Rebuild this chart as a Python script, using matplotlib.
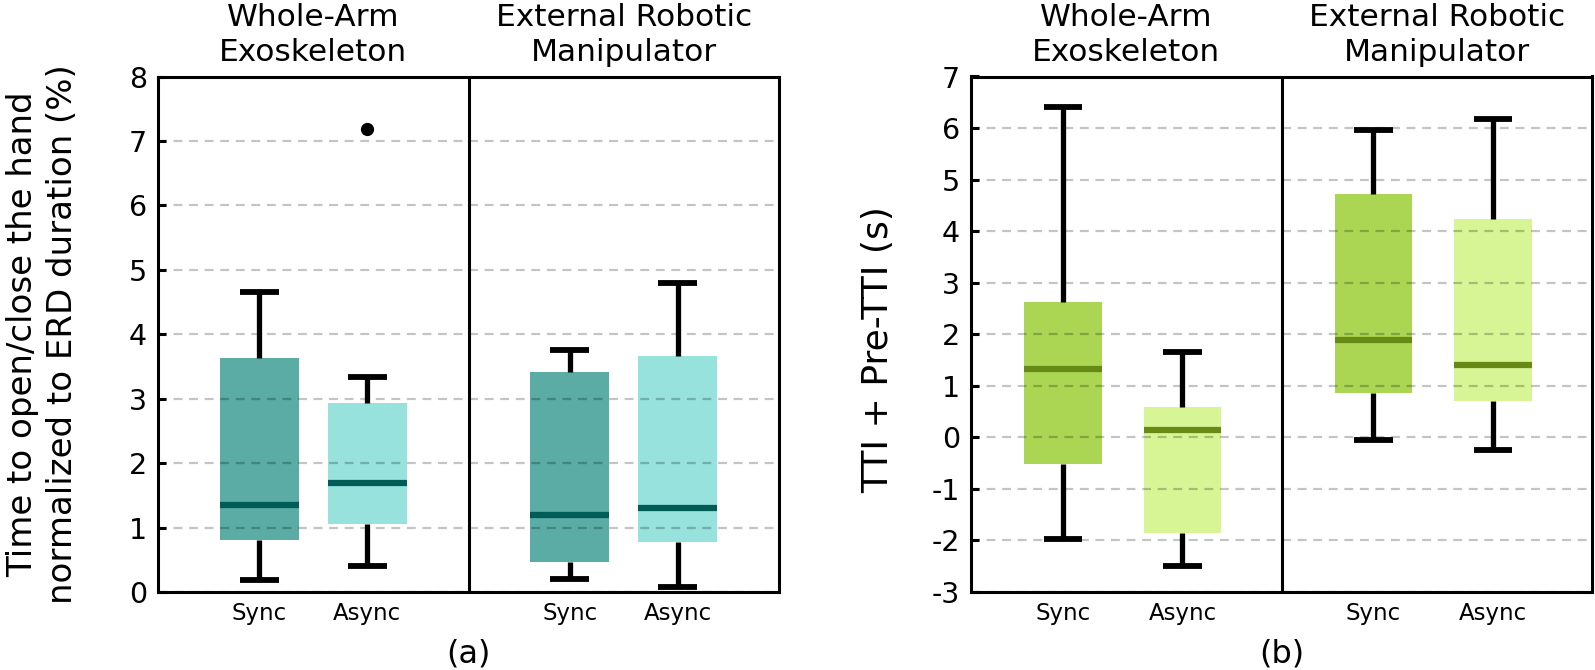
import matplotlib
matplotlib.use("Agg")
import matplotlib.pyplot as plt
import numpy as np

plt.rcParams["axes.unicode_minus"] = False

# groups / conditions
groups = ["Whole-Arm\nExoskeleton", "External Robotic\nManipulator"]
conditions = ["Sync", "Async"]

# panel (a): WAE Sync, WAE Async, ERM Sync, ERM Async
a_whislo = [0.18, 0.41, 0.20, 0.07]
a_q1 = [0.80, 1.05, 0.47, 0.78]
a_med = [1.35, 1.69, 1.20, 1.30]
a_q3 = [3.63, 2.94, 3.41, 3.67]
a_whishi = [4.65, 3.33, 3.76, 4.80]
a_fliers = [[], [7.19], [], []]

# panel (b)
b_whislo = [-1.98, -2.49, -0.05, -0.25]
b_q1 = [-0.52, -1.85, 0.87, 0.71]
b_med = [1.32, 0.14, 1.89, 1.40]
b_q3 = [2.62, 0.58, 4.72, 4.24]
b_whishi = [6.41, 1.65, 5.97, 6.17]
b_fliers = [[], [], [], []]

a_ylabel = "Time to open/close the hand\nnormalized to ERD duration (%)"
b_ylabel = "TTI + Pre-TTI (s)"


def make_stats(lo, q1, med, q3, hi, fl):
    return [dict(whislo=lo[i], q1=q1[i], med=med[i], q3=q3[i], whishi=hi[i],
                 fliers=fl[i]) for i in range(len(med))]


def draw_panel(ax, stats, offsets, width, colors, med_color, ylim, yticks,
               ylabel, label_size, label_xy, tag):
    pos = [offsets[0], offsets[1], 1 + offsets[0], 1 + offsets[1]]
    res = ax.bxp(stats, positions=pos, widths=width, capwidths=0.125,
                 patch_artist=True, showfliers=True,
                 boxprops=dict(linewidth=0),
                 whiskerprops=dict(color="black", linewidth=3.8, solid_capstyle="butt"),
                 capprops=dict(color="black", linewidth=4.2, solid_capstyle="butt"),
                 medianprops=dict(color=med_color, linewidth=4.5, solid_capstyle="butt"),
                 flierprops=dict(marker="o", markerfacecolor="black",
                                 markeredgecolor="black", markersize=8.5))
    for i, box in enumerate(res["boxes"]):
        box.set_facecolor(colors[i % 2])
        box.set_edgecolor(colors[i % 2])
        box.set_zorder(1)
    for ln in res["whiskers"] + res["caps"] + res["medians"] + res["fliers"]:
        ln.set_zorder(3)

    ax.set_xlim(0, 2)
    ax.set_ylim(*ylim)
    ax.set_yticks(yticks)
    ax.set_axisbelow("line")
    ax.yaxis.grid(True, color="black", alpha=0.23, linestyle=(0, (4, 3)), linewidth=1.6)
    ax.axvline(1, color="black", linewidth=2.2, zorder=4)

    ax.set_xticks(pos)
    ax.set_xticklabels(conditions * 2, fontsize=16.5)
    ax.tick_params(axis="x", length=0, pad=7)
    ax.tick_params(axis="y", direction="in", length=6, width=2.2, labelsize=20.5, pad=8)
    for s in ax.spines.values():
        s.set_linewidth(2.2)
        s.set_zorder(4)
    ax.set_ylabel(ylabel, fontsize=label_size, linespacing=1.25)
    ax.yaxis.set_label_coords(*label_xy)

    for k, g in enumerate(groups):
        ax.text(0.5 + k, 1.03, g, transform=ax.get_xaxis_transform(),
                ha="center", va="baseline", fontsize=22.5, linespacing=1.25)
    ax.text(0.5, -0.12, tag, transform=ax.transAxes, ha="center", va="center",
            fontsize=23)


fig = plt.figure(figsize=(15.95, 6.70), dpi=100)
ax1 = fig.add_axes([158 / 1595, 1 - 592 / 670, 621 / 1595, 515.5 / 670])
ax2 = fig.add_axes([971 / 1595, 1 - 592 / 670, 621 / 1595, 515.5 / 670])

draw_panel(ax1, make_stats(a_whislo, a_q1, a_med, a_q3, a_whishi, a_fliers),
           (0.326, 0.674), 0.254, ["#5aaca5", "#97e2dc"], "#005c57",
           (0, 8), range(0, 9), a_ylabel, 24.5, (-0.128, 0.50), "(a)")
draw_panel(ax2, make_stats(b_whislo, b_q1, b_med, b_q3, b_whishi, b_fliers),
           (0.296, 0.681), 0.25, ["#aad653", "#d8f596"], "#668a13",
           (-3, 7), range(-3, 8), b_ylabel, 26, (-0.122, 0.47), "(b)")

fig.savefig("out.png", dpi=100)
